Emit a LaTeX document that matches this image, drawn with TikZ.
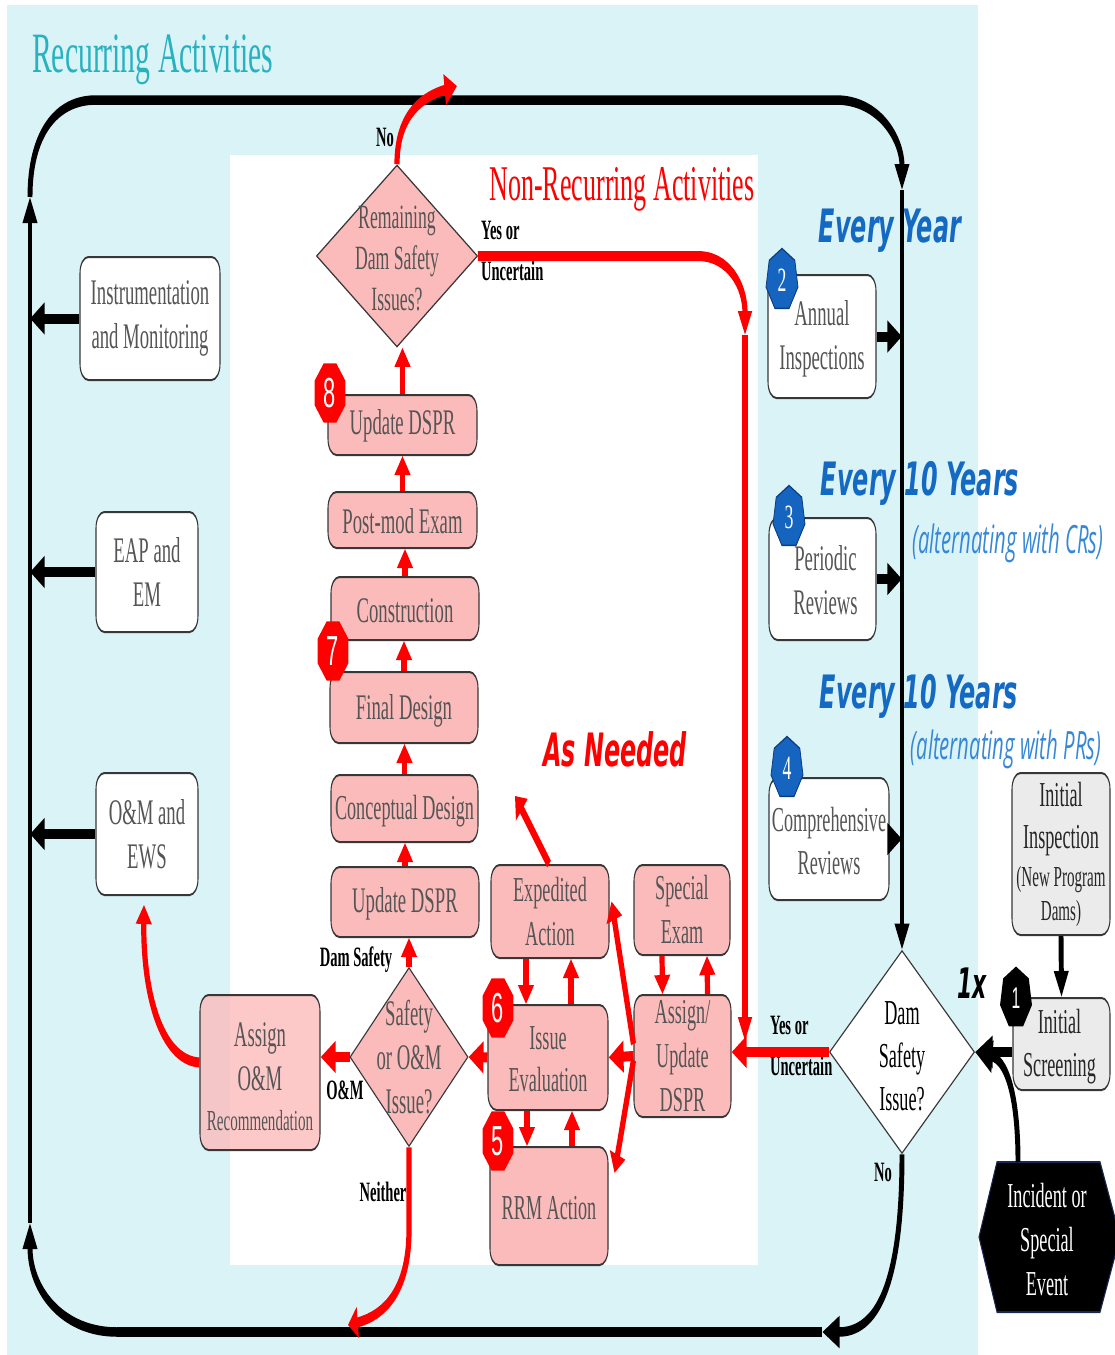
\documentclass[tikz,border=0pt]{standalone}
\usepackage{fontspec}
\setmainfont{Liberation Serif}
\newfontfamily\dvsfont{DejaVu Sans}
\newfontfamily\opsfont{Open Sans}
\newfontfamily\lsfont{Liberation Sans}
\usetikzlibrary{arrows.meta,shapes.geometric,fit,calc}
\definecolor{bgcyan}{RGB}{218,243,247}
\definecolor{ttlcol}{RGB}{40,178,192}
\definecolor{evblue}{RGB}{20,105,195}
\definecolor{altblue}{RGB}{55,135,215}
\definecolor{badgeblue}{RGB}{21,101,192}
\definecolor{badgedark}{RGB}{12,60,130}
\definecolor{pinkfill}{RGB}{252,187,187}
\definecolor{bord}{RGB}{55,55,55}
\definecolor{btext}{RGB}{85,85,85}
\definecolor{gfill}{RGB}{235,235,235}
\definecolor{hexbord}{RGB}{25,40,80}
\tikzset{
  rv/.tip={Triangle[length=19pt,width=30pt]},
  rvl/.tip={Triangle[length=24pt,width=26pt]},
  rh/.tip={Triangle[length=29pt,width=30pt]},
  rd/.tip={Triangle[length=24pt,width=30pt]},
  bv/.tip={Triangle[length=26pt,width=27pt]},
  bh/.tip={Triangle[length=28pt,width=30pt]},
  bhs/.tip={Triangle[length=34pt,width=30pt]},
  basebox/.style={draw=bord, line width=2pt, rounded corners=16pt, inner sep=0pt},
  wbox/.style={basebox, fill=white},
  pbox/.style={basebox, fill=pinkfill},
  gbox/.style={basebox, fill=gfill},
  btxt/.style={align=center, inner sep=0pt, text=btext, font=\fontsize{36}{44}\selectfont},
  gtxt/.style={btxt, text=black!85},
  dia/.style={shape=diamond, draw=bord, line width=1.6pt, inner sep=0pt},
  dtext/.style={align=center, inner sep=0pt, font=\fontsize{35}{43}\selectfont},
  lbl/.style={inner sep=0pt, font=\bfseries\fontsize{28}{32}\selectfont},
  rl/.style={draw=red, line width=10pt},
  blk/.style={draw=black, line width=9.5pt},
  bbig/.style={draw=black, line width=10pt},
  bdg/.style={regular polygon, regular polygon sides=7, minimum size=63pt, inner sep=0pt, text=white},
  bdgblue/.style={bdg, fill=badgeblue, draw=badgedark, line width=1.5pt, font=\fontsize{34}{34}\selectfont},
  bdgred/.style={bdg, regular polygon sides=8, minimum size=64pt, fill=red, font=\lsfont\fontsize{42}{42}\selectfont},
  bdgblk/.style={bdg, fill=black, font=\lsfont\fontsize{30}{30}\selectfont},
  evtxt/.style={inner sep=0pt, text=evblue, font=\dvsfont\bfseries\itshape\fontsize{46}{50}\selectfont},
  alttxt/.style={inner sep=0pt, text=altblue, font=\opsfont\itshape\fontsize{39}{44}\selectfont},
}
\begin{document}
\begin{tikzpicture}[x=1pt,y=-1pt]
\useasboundingbox (0,0) rectangle (1115,1355);
\begin{scope}[transform canvas={xscale=0.52}, x=1.923077pt, y=-1pt]
% backgrounds
\fill[bgcyan] (7,5) rectangle (978,1355);
\fill[white] (230,155) rectangle (758,1265);

% titles and free labels
\node[anchor=base west, inner sep=0pt, text=ttlcol, font=\fontsize{57}{60}\selectfont] (ttlR) at (32,72) {Recurring Activities};
\node[anchor=base, inner sep=0pt, text=red, font=\fontsize{50}{55}\selectfont] (ttlN) at (622,200) {Non-Recurring Activities};
\node[evtxt, anchor=base] (ev1) at (890,242) {Every Year};
\node[evtxt, anchor=base] (ev2) at (920,495) {Every 10 Years};
\node[evtxt, anchor=base] (ev3) at (919,708) {Every 10 Years};
\node[alttxt, anchor=base] (alt1) at (1008,553) {(alternating with CRs)};
\node[alttxt, anchor=base] (alt2) at (1006,759) {(alternating with PRs)};
\node[anchor=base, inner sep=0pt, text=red, font=\dvsfont\bfseries\itshape\fontsize{46}{50}\selectfont] (asn) at (615,766) {As Needed};
\node[anchor=base, inner sep=0pt, font=\dvsfont\bfseries\itshape\fontsize{42}{44}\selectfont] (onex) at (972,998) {1x};

% loop coordinates
\coordinate (tl) at (96,100);
\coordinate (tr) at (836,100);
\coordinate (ra) at (902,190);
\coordinate (lt) at (30,197);
\coordinate (lb) at (30,1223);
\coordinate (bl) at (117,1332);
\coordinate (br) at (822,1332);
\coordinate (L) at (30,0);
\coordinate (R) at (902,0);

% recurring boxes
\node[wbox, fit={(80,257)(220,380)}] (instr) {};
\node[btxt] (instrT) at (instr) {Instrumentation\\and Monitoring};
\node[wbox, fit={(96,512)(198,632)}] (eap) {};
\node[btxt] (eapT) at (eap) {EAP and\\EM};
\node[wbox, fit={(96,773)(198,895)}] (omews) {};
\node[btxt] (omewsT) at (omews) {O\&M and\\EWS};
\node[wbox, fit={(768,275)(876,398)}] (annual) {};
\node[btxt] (annualT) at ($(annual)+(0,2)$) {Annual\\Inspections};
\node[wbox, fit={(769,518)(876,640)}] (periodic) {};
\node[btxt] (periodicT) at ($(periodic)+(3,1)$) {Periodic\\Reviews};
\node[wbox, fit={(769,778)(889,900)}] (compr) {};
\node[btxt, font=\fontsize{35}{43}\selectfont] (comprT) at ($(compr)+(0,2)$) {Comprehensive\\Reviews};
\node[gbox, fit={(1012,773)(1110,935)}] (initinsp) {};
\node[gtxt, font=\fontsize{35}{42}\selectfont] (initinspT) at (initinsp) {Initial\\Inspection\\[-4pt]{\fontsize{29}{34}\selectfont (New Program}\\[-8pt]{\fontsize{29}{34}\selectfont Dams)}};
\node[gbox, fit={(1013,998)(1110,1090)}] (initscr) {};
\node[gtxt, font=\fontsize{35}{43}\selectfont] (initscrT) at ($(initscr)+(-2,3)$) {Initial\\Screening};

% decision diamond (recurring)
\node[dia, fill=white, minimum width=278.8pt, minimum height=203pt] (dsi) at (902,1052) {};
\node[dtext, text=black] (dsiT) at (902,1056) {Dam\\Safety\\Issue?};

% incident hexagon
\filldraw[fill=black, draw=hexbord, line width=2pt] (979,1237) -- (997,1162) -- (1100,1162) -- (1120,1237) -- (1100,1312) -- (997,1312) -- cycle;
\node[dtext, text=white, font=\fontsize{35}{44}\selectfont] (inc) at (1047,1240) {Incident or\\Special\\Event};
\coordinate (incTop) at (1018,1162);

% non-recurring boxes
\node[pbox, fit={(328,395)(477,455)}] (upd8) {};
\node[btxt] (upd8T) at ($(upd8)+(0,1)$) {Update DSPR};
\node[pbox, fit={(328,492)(477,548)}] (post) {};
\node[btxt] (postT) at ($(post)+(0,1)$) {Post-mod Exam};
\node[pbox, fit={(331,577)(479,640)}] (constr) {};
\node[btxt] (constrT) at ($(constr)+(0,2)$) {Construction};
\node[pbox, fit={(330,672)(478,743)}] (final) {};
\node[btxt] (finalT) at ($(final)+(0,3)$) {Final Design};
\node[pbox, fit={(331,775)(478,842)}] (concept) {};
\node[btxt, font=\fontsize{35}{43}\selectfont] (conceptT) at ($(concept)+(0,3)$) {Conceptual Design};
\node[pbox, fit={(331,867)(479,937)}] (upd2) {};
\node[btxt] (upd2T) at ($(upd2)+(0,2)$) {Update DSPR};
\node[pbox, fit={(491,865)(609,958)}] (expd) {};
\node[btxt, font=\fontsize{35}{44}\selectfont] (expdT) at (expd) {Expedited\\Action};
\node[pbox, fit={(634,865)(730,955)}] (spec) {};
\node[btxt, font=\fontsize{35}{44}\selectfont] (specT) at (spec) {Special\\Exam};
\node[pbox, fit={(488,1005)(608,1110)}] (issue) {};
\node[btxt, font=\fontsize{35}{42}\selectfont] (issueT) at ($(issue)+(0,2)$) {Issue\\Evaluation};
\node[pbox, fit={(490,1147)(608,1265)}] (rrm) {};
\node[btxt, font=\fontsize{35}{42}\selectfont] (rrmT) at ($(rrm)+(0,2)$) {RRM Action};
\node[pbox, fit={(634,995)(731,1117)}] (assign) {};
\node[btxt, font=\fontsize{35}{44}\selectfont] (assignT) at (assign) {Assign/\\Update\\DSPR};
\node[pbox, fill opacity=0.8, fit={(200,995)(320,1150)}] (omrec) {};
\node[btxt] (omrecT) at ($(omrec)+(0,4)$) {Assign\\O\&M\\[-4pt]{\fontsize{29}{34}\selectfont Recommendation}};

\node[dia, fill=pinkfill, minimum width=309.6pt, minimum height=182pt] (rem) at (397,256) {};
\node[dtext, text=btext, font=\fontsize{34}{41}\selectfont] (remT) at (397,258) {Remaining\\Dam Safety\\Issues?};
\node[dia, fill=pinkfill, minimum width=226.9pt, minimum height=179pt] (som) at (409,1057) {};
\node[dtext, text=btext, font=\fontsize{36}{44}\selectfont] (somT) at (409,1057) {Safety\\or O\&M\\Issue?};

% connector labels
\node[lbl] (noT) at (385,137) {No};
\node[lbl, anchor=west] (yes1) at (481,230) {Yes or};
\node[lbl, anchor=west] (unc1) at (481,271) {Uncertain};
\node[lbl, anchor=west] (yes2) at (770,1025) {Yes or};
\node[lbl, anchor=west] (unc2) at (770,1066) {Uncertain};
\node[lbl] (noB) at (883,1172) {No};
\node[lbl] (dsl) at (356,960) {Dam Safety};
\node[lbl] (oml) at (345,1090) {O\&M};
\node[lbl] (nel) at (383,1192) {Neither};

% black loop
\draw[blk] (lt) .. controls (30,135) and (55,100) .. (tl) -- (tr);
\draw[blk, -bv] (tr) .. controls (880,100) and (902,140) .. (ra);
\draw[blk, -bv] (ra) -- (dsi.north);
\draw[blk, -bv] (lb) -- (lt);
\draw[blk, -bv] (bl) .. controls (62,1332) and (30,1290) .. (lb);
\draw[blk, -bhs] (dsi.south) .. controls (902,1290) and (875,1332) .. (br);
\draw[blk] (br) -- (bl);

% black box arrows
\draw[bbig, -bh] (instr.west) -- (instr.west -| L);
\draw[bbig, -bh] (eap.west) -- (eap.west -| L);
\draw[bbig, -bh] (omews.west) -- (omews.west -| L);
\draw[bbig, -bh] (annual.east) -- (annual.east -| R);
\draw[bbig, -bh] (periodic.east) -- (periodic.east -| R);
\draw[bbig, -bh] (compr.east) -- (compr.east -| R);
\draw[blk, -bv] (initinsp.south) -- (initscr.north);
\draw[bbig, -bhs] (initscr.west |- dsi.east) -- (dsi.east);
\draw[blk, -bhs] (incTop) .. controls (1018,1090) and (1005,1060) .. (dsi.east);

% red connectors
\coordinate (noEnd) at (457,86);
\draw[rl, -rd] (rem.north) .. controls (397,112) and (425,96) .. (noEnd);
\coordinate (ya) at (745,335);
\coordinate (yb) at (745,1041);
\draw[rl, -rvl] (rem.east) -- (698,256) .. controls (728,256) and (745,285) .. (ya);
\draw[rl, -rvl] (ya) -- (yb);
\draw[rl, -rh] (dsi.west) -- (assign.east |- dsi.west);
\draw[rl, -rh] (assign.west) -- (issue.east);
\draw[rl, -rh] (issue.west) -- (som.east);
\draw[rl, -rh] (som.west) -- (omrec.east |- som.west);
\draw[rl, -rv] ($(omrec.west)+(0,-10)$) .. controls (160,1060) and (143,990) .. ($(omews.south)+(-3,9)$);
\coordinate (nEnd) at (348,1325);
\draw[rl, -rv] (som.south) -- (409,1230) .. controls (409,1290) and (385,1315) .. (nEnd);
\draw[rl, -rv] (som.north) -- (som.north |- upd2.south);
\draw[rl, -rv] (upd2.north) -- (upd2.north |- concept.south);
\draw[rl, -rv] (concept.north) -- (concept.north |- final.south);
\draw[rl, -rv] (final.north) -- (final.north |- constr.south);
\draw[rl, -rv] (constr.north) -- (constr.north |- post.south);
\draw[rl, -rv] (post.north) -- (post.north |- upd8.south);
\draw[rl, -rv] (upd8.north) -- (upd8.north |- rem.south);
\draw[rl, -rv] ($(expd.south)+(-24,0)$) -- ($(issue.north)+(-22,0)$);
\draw[rl, -rv] ($(issue.north)+(23,0)$) -- ($(expd.south)+(21,0)$);
\draw[rl, -rv] ($(issue.south)+(-21,0)$) -- ($(rrm.north)+(-22,0)$);
\draw[rl, -rv] ($(rrm.north)+(23,0)$) -- ($(issue.south)+(24,0)$);
\draw[rl, -rv] ($(spec.south)+(-20,0)$) -- ($(assign.north)+(-20,0)$);
\draw[rl, -rv] ($(assign.north)+(25,0)$) -- ($(spec.south)+(25,0)$);
\draw[rl, -rv] ($(assign.west)+(0,-12)$) -- ($(expd.east)+(2,-10)$);
\draw[rl, -rv] ($(assign.west)+(0,4)$) -- ($(rrm.east)+(6,-33)$);
\coordinate (xp) at (515,796);
\draw[rl, -rv] ($(expd.north)+(-1,0)$) -- (xp);

% badges
\node[bdgblue] (b2) at (782,280) {2};
\node[bdgblue] (b3) at (789,517) {3};
\node[bdgblue] (b4) at (787,768) {4};
\node[bdgred] (b8) at (330,393) {8};
\node[bdgred] (b7) at (333,651) {7};
\node[bdgred] (b6) at (498,1008) {6};
\node[bdgred] (b5) at (498,1141) {5};
\node[bdgblk] (b1) at (1016,998) {1};
\end{scope}
\end{tikzpicture}
\end{document}
